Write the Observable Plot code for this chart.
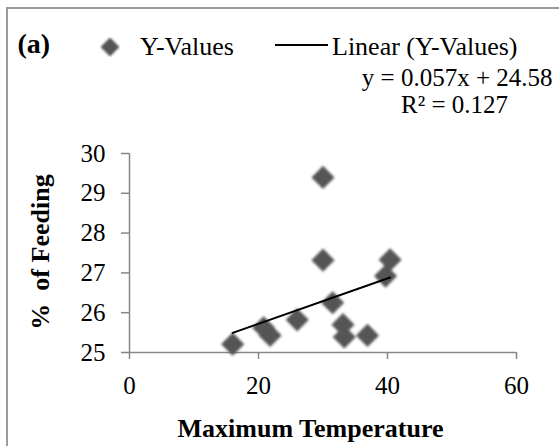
<!DOCTYPE html>
<html>
<head>
<meta charset="utf-8">
<script src="https://cdn.jsdelivr.net/npm/d3@7"></script>
<script src="https://cdn.jsdelivr.net/npm/@observablehq/plot@0.6"></script>
<style>
  body { margin: 0; background: #fff; }
  #chart { position: relative; width: 559px; height: 446px; overflow: hidden;
           font-family: "Liberation Serif", "Times New Roman", serif; }
  #frame { position: absolute; left: 6px; top: 7px; right: -6px; bottom: -6px;
           border-left: 2px solid #9b9b9b; border-top: 2px solid #9b9b9b; }
  #chart > svg { position: absolute; left: 0; top: 0; font-family: "Liberation Serif", "Times New Roman", serif; }
  #chart > svg text { font-family: "Liberation Serif", "Times New Roman", serif; }
  .lg { position: absolute; }
  .lg-text { position: absolute; white-space: pre; line-height: 1; font-size: 26px; color: #000; }
</style>
</head>
<body>
<div id="chart"><div id="frame"></div></div>
<script>
// Maximum temperature vs. percentage of feeding
const temperature = [16.0, 20.8, 21.8, 26.0, 30.0, 30.0, 31.5, 33.1, 33.3, 36.9, 39.7, 40.4];
const feeding     = [25.21, 25.62, 25.43, 25.82, 29.40, 27.32, 26.25, 25.70, 25.39, 25.43, 26.92, 27.33];

// Linear trend as reported on the chart
const slope = 0.057;
const intercept = 24.58;
const rSquared = 0.127;

const xTicks = [0, 20, 40, 60];
const yTicks = [25, 26, 27, 28, 29, 30];
const legendLabels = ["Y-Values", "Linear (Y-Values)"];

const points = temperature.map((t, i) => ({t, f: feeding[i]}));
const trend = d3.extent(temperature).map(t => ({t, f: slope * t + intercept}));

const serif = "Liberation Serif, Times New Roman, serif";
const axisGray = "#878787";
const dotFill = "#555555";

const chart = Plot.plot({
  width: 559,
  height: 446,
  marginLeft: 129,
  marginRight: 43,
  marginTop: 153,
  marginBottom: 94,
  style: {fontFamily: serif, fontSize: "25px", color: "#000", background: "transparent"},
  x: {domain: [0, 60], label: null},
  y: {domain: [25, 30], label: null},
  marks: [
    Plot.ruleY([25], {stroke: axisGray, strokeWidth: 1.5}),
    Plot.ruleX([0], {stroke: axisGray, strokeWidth: 1.5}),
    Plot.axisX({ticks: xTicks, tickFormat: d => String(d), tickSize: 7, tickPadding: 17, stroke: axisGray, strokeWidth: 1.5, fill: "#000", fontSize: 25, fontFamily: serif, label: null}),
    Plot.axisY({ticks: yTicks, tickFormat: d => String(d), tickSize: 8, tickPadding: 16, stroke: axisGray, strokeWidth: 1.5, fill: "#000", fontSize: 25, fontFamily: serif, label: null}),
    Plot.dot(points, {x: "t", y: "f", symbol: "diamond2", r: 10.4, fill: dotFill, stroke: "none"}),
    Plot.line(trend, {x: "t", y: "f", stroke: "#000", strokeWidth: 2}),
    // panel tag
    Plot.text(["(a)"], {frameAnchor: "top-left", dx: -112, dy: -101, text: d => d, textAnchor: "start", lineAnchor: "bottom", fontSize: 28, fontWeight: "bold", fontFamily: serif}),
    // trendline equation
    Plot.text([`y = ${slope}x + ${intercept}`], {frameAnchor: "top-right", dx: 36, dy: -68, text: d => d, textAnchor: "end", lineAnchor: "bottom", fontSize: 25, fontFamily: serif}),
    Plot.text([`R\u00b2 = ${rSquared}`], {frameAnchor: "top-right", dx: -62, dy: -41, text: d => d, textAnchor: "middle", lineAnchor: "bottom", fontSize: 25, fontFamily: serif}),
    // axis titles
    Plot.text(["Maximum Temperature"], {frameAnchor: "bottom", dx: -12.5, dy: 84.5, text: d => d, textAnchor: "middle", lineAnchor: "bottom", fontSize: 26, fontWeight: "bold", fontFamily: serif}),
    Plot.text(["%\u00a0\u00a0of Feeding"], {frameAnchor: "left", dx: -81, dy: -1, rotate: -90, text: d => d, textAnchor: "middle", lineAnchor: "bottom", fontSize: 26, fontWeight: "bold", fontFamily: serif})
  ]
});

// soft edges on the scatter markers
const defs = d3.select(chart).append("defs");
defs.append("filter").attr("id", "soft").attr("x", "-20%").attr("y", "-20%").attr("width", "140%").attr("height", "140%")
  .append("feGaussianBlur").attr("stdDeviation", 0.8);
d3.select(chart).selectAll('g[aria-label="dot"]').attr("filter", "url(#soft)");

const root = document.getElementById("chart");
root.appendChild(chart);

// legend above the plot area
function addSvg(left, top, w, h, inner) {
  const s = document.createElementNS("http://www.w3.org/2000/svg", "svg");
  s.setAttribute("class", "lg");
  s.setAttribute("width", w);
  s.setAttribute("height", h);
  s.style.left = left + "px";
  s.style.top = top + "px";
  s.innerHTML = inner;
  root.appendChild(s);
}
function addText(left, top, str) {
  const d = document.createElement("div");
  d.className = "lg-text";
  d.style.left = left + "px";
  d.style.top = top + "px";
  d.textContent = str;
  root.appendChild(d);
}
addSvg(100, 37, 20, 20, `<polygon points="10,0.5 19.5,10 10,19.5 0.5,10" fill="${dotFill}" filter="url(#soft)"/>`);
addText(140, 34, legendLabels[0]);
addSvg(275, 35, 53, 20, `<line x1="0" x2="53" y1="10" y2="10" stroke="#000" stroke-width="2"/>`);
addText(332, 34, legendLabels[1]);
</script>
</body>
</html>
